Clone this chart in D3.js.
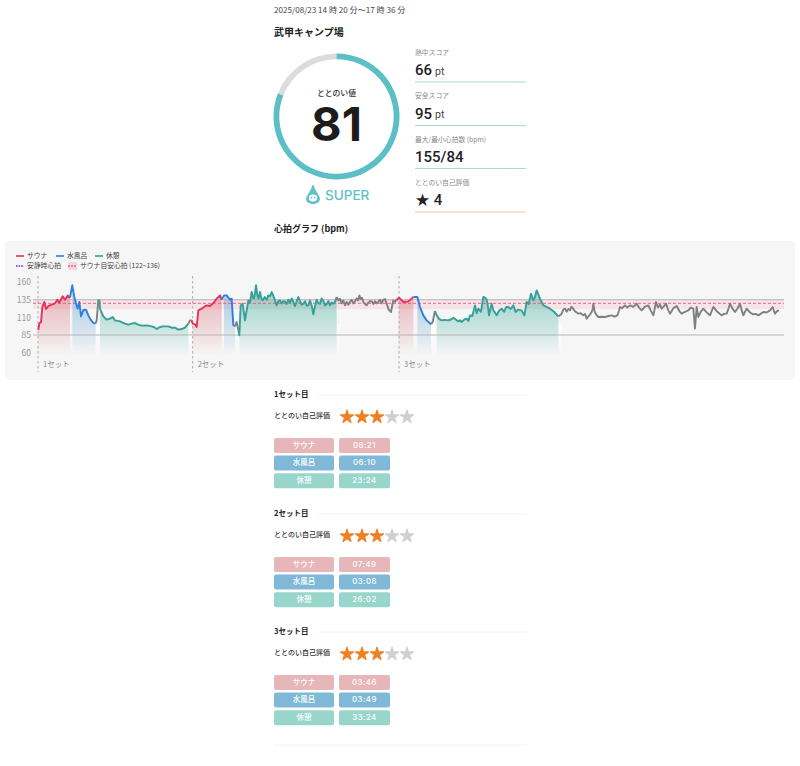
<!DOCTYPE html>
<html lang="ja"><head><meta charset="utf-8">
<script src="https://cdn.jsdelivr.net/npm/d3@7/dist/d3.min.js"></script>
<style>html,body{margin:0;padding:0;background:#fff}svg{display:block}
text{font-family:"Noto Sans CJK JP","Noto Sans",sans-serif;}
.num{font-family:Inter,sans-serif}.rb{font-family:Roboto,sans-serif}</style></head><body>
<div id="c"></div>
<script>
const dateText="2025/08/23 14 時 20 分〜17 時 36 分";
const placeName="武甲キャンプ場";
const score=81, scoreMax=100, scoreLabel="ととのい値", rankLabel="SUPER";
const statLabels=["熱中スコア","安全スコア","最大/最小心拍数 (bpm)","ととのい自己評価"];
const statValues=["66","95","155/84","★ 4"];
const statUnits=["pt","pt","",""];
const chartTitle="心拍グラフ (bpm)";
const yTicks=[60,85,110,135,160];
const restingHr=85, gridTop=135, targetLow=122, targetHigh=136, targetMid=130;
const setStarts=[0,464,1083];
const setLabels=["1セット","2セット","3セット"];
const totalTicks=2226; // 1 tick ≈ 5.3 s, 14:20 → 17:36
const sauna1=[[1,92],[4,102],[9,103],[13,125],[19,132],[24,122],[31,126],[41,128],[51,130],[58,135],[64,131],[74,140],[81,135],[89,141],[96,138]];
const water1=[[103,155.6],[108,141.3],[114,129.5],[119,122.4],[124,131.9],[129,111.5],[136,120.5],[144,121],[151,112.9],[158,106.8],[166,102],[173,101.5]];
const gapA=[[176,105.8],[181,134.2],[184,135.2]];
const rest1=[[186,122.4],[196,111.5],[206,106.8],[216,108.2],[224,110.6],[231,105.8],[246,104.4],[254,102.5],[261,101.1],[271,99.7],[281,101.1],[291,102],[301,99.7],[311,98.3],[326,98.7],[341,97.3],[349,96],[356,93.5],[366,96.4],[376,97.3],[391,97.3],[401,95.4],[411,95.4],[421,92.6],[431,93.5],[441,95.4],[451,101.1]];
const gapB=[[456,105.8],[461,105.8]];
const sauna2=[[464,101.1],[471,100.2],[476,96.4],[481,120],[491,122.4],[498,124.8],[506,127.1],[516,126.2],[526,130.5],[536,136.6],[546,141.3],[551,135.2]];
const water2=[[558,141.3],[566,141.3],[576,135.2],[581,136.6],[586,99],[591,97.3]];
const gapC=[[596,103.5],[601,91.6]];
const rest2=[[604,84.5],[608,127.1],[614,129.5],[621,105.8],[631,134.2],[636,131],[641,146],[645,138],[648,136.6],[651,144],[654,155.6],[658,142],[661,136.6],[664,141],[666,146],[670,137],[674,134.2],[680,139],[686,135],[691,141.3],[696,140],[701,146],[706,141],[711,134.2],[716,127.1],[721,133],[726,134.2],[731,130],[736,133],[741,132.8],[746,129],[751,135.2],[756,131],[761,137],[766,131.9],[771,126],[776,133],[781,139],[786,133],[791,128],[796,129.5],[801,133],[806,127],[811,127.1],[816,134],[821,127],[826,114.4],[831,126],[836,135.2],[841,130],[846,129.5],[851,137],[856,133.3],[861,127],[866,128.6],[871,133],[876,127.1],[881,131],[886,129.5],[891,132],[896,139]];
const gapD=[[901,134],[906,136.6],[911,130],[916,134],[921,127.1],[926,132],[931,128],[936,131.9],[941,135],[946,130],[951,132.8],[956,137],[960,134],[964,141.3],[968,136],[972,138],[976,131.9],[981,129],[986,127.1],[991,131],[996,133],[1001,132.8],[1006,129],[1011,133],[1016,130],[1021,131.9],[1026,135],[1031,130],[1036,135.2],[1041,136],[1046,129.5],[1052,121],[1059,117.7],[1063,128],[1066,134.2],[1071,132],[1076,135.2]];
const sauna3=[[1083,138],[1096,131.9],[1111,132.8],[1126,139]];
const water3=[[1138,139],[1146,124.8],[1156,112.9],[1166,105.8],[1179,100.2]];
const gapE=[[1184,103.5],[1191,119.1]];
const rest3=[[1196,112.9],[1203,108],[1211,105.8],[1221,106.5],[1231,105.8],[1239,107],[1246,109.6],[1253,107],[1261,104.4],[1266,106],[1271,103.5],[1279,107],[1286,108.2],[1291,104.8],[1296,112.9],[1303,112],[1311,127.1],[1316,116],[1321,122.4],[1329,118],[1336,139],[1341,138],[1346,135.2],[1350,125],[1353,112.9],[1357,121],[1361,129.5],[1366,120],[1371,117],[1376,112.9],[1382,119],[1391,122.4],[1398,118],[1405,125],[1411,124.8],[1418,122],[1426,127.1],[1433,117.7],[1440,121],[1451,120],[1459,112.9],[1466,131.9],[1472,129],[1479,143.7],[1486,134.2],[1491,139],[1496,148.4],[1506,136.6],[1516,127.1],[1526,125],[1536,122.4],[1548,118],[1561,111.5]];
const gapF=[[1566,113],[1571,115.3],[1576,121],[1581,122.4],[1586,118],[1591,122],[1596,120],[1600,125],[1604,123.8],[1610,119],[1616,117],[1621,115.3],[1628,116],[1636,112.9],[1641,115],[1646,108.2],[1652,112],[1656,114],[1661,117.7],[1664,122],[1666,129.5],[1670,118],[1676,113],[1681,110.6],[1691,111],[1701,110.6],[1711,112],[1721,112.9],[1730,111],[1738,112.9],[1742,118],[1746,124.8],[1752,123],[1761,127.1],[1768,124],[1776,127.1],[1786,125],[1796,129.5],[1803,124],[1811,120],[1820,125],[1831,127.1],[1838,120],[1846,112.9],[1850,122],[1854,131.9],[1860,124],[1866,128],[1871,122.4],[1878,126],[1884,129.5],[1890,121],[1896,115.3],[1906,123],[1916,126.2],[1924,119],[1931,115.3],[1941,118],[1951,120],[1958,124],[1966,122.4],[1971,94],[1976,124.8],[1981,110.6],[1988,118],[1996,122.4],[2006,117],[2016,112.9],[2021,119],[2026,124.8],[2038,118],[2051,112.9],[2058,115],[2066,115.3],[2071,122],[2076,129.5],[2084,122],[2091,117.7],[2099,123],[2106,129.5],[2111,120],[2116,112.9],[2121,118],[2126,122.4],[2136,117],[2146,114.4],[2153,115],[2161,112.9],[2168,115],[2176,117.7],[2186,117],[2196,120],[2204,124.8],[2208,119],[2211,115.3],[2217,119],[2223,120]];
const segKinds=["sauna","water","none","rest","none","sauna","water","none","rest","none","sauna","water","none","rest","none"];
const segData=[sauna1,water1,gapA,rest1,gapB,sauna2,water2,gapC,rest2,gapD,sauna3,water3,gapE,rest3,gapF];
const gapSpans=[[173,186],[451,464],[596,604],[896,906],[1179,1196],[1561,1571]];
const legendRow1=["サウナ","水風呂","休憩"];
const legendRow2=["安静時心拍","サウナ目安心拍 (122~136)"];
const setTitles=["1セット目","2セット目","3セット目"];
const selfLabel="ととのい自己評価";
const setStars=[3,3,3];
const rowLabels=["サウナ","水風呂","休憩"];
const setTimes=[["08:21","06:10","23:24"],["07:49","03:08","26:02"],["03:46","03:49","33:24"]];

const W=800,H=766;
const svg=d3.select("#c").append("svg").attr("width",W).attr("height",H).attr("viewBox",`0 0 ${W} ${H}`);
const defs=svg.append("defs");
const ink="#222";
function txt(x,y,s,size,fill,weight,anchor,cls){
  const t=svg.append("text").attr("x",x).attr("y",y).attr("font-size",size).attr("fill",fill||ink).attr("dominant-baseline","middle").text(s);
  if(weight)t.attr("font-weight",weight); if(anchor)t.attr("text-anchor",anchor); if(cls)t.attr("class",cls);
  return t;
}
txt(274,11,dateText,8.1,"#444");
txt(274,33,placeName,10,"#222",700);

// ring
const ringC=[336.5,116.5], ringR=63, ringW=5.8;
const arc=d3.arc().innerRadius(ringR-ringW).outerRadius(ringR);
const angle=d3.scaleLinear().domain([0,scoreMax]).range([0,2*Math.PI]);
const ring=svg.append("g").attr("transform",`translate(${ringC})`);
ring.append("path").attr("d",arc({startAngle:angle(score),endAngle:angle(scoreMax)})).attr("fill","#dcdcdc");
ring.append("path").attr("d",arc({startAngle:angle(0),endAngle:angle(score)})).attr("fill","#5cbfc6");
txt(336.5,93.5,scoreLabel,7.8,"#333",500,"middle");
txt(336.5,128,score,47,"#1c1c1c",700,"middle","num");
// rank badge
const badge=svg.append("g").attr("transform","translate(313,196)");
badge.append("path").attr("fill","#62c1c8").attr("d","M-1.2,-8.6 a1.4,1.4 0 1 1 2.4,0 L6.6,1 C8,6 4,8 0,8 C-4,8 -8,6 -6.6,1 Z");
badge.append("ellipse").attr("cy",2).attr("rx",4.2).attr("ry",3.4).attr("fill","#fff");
badge.append("circle").attr("cx",-1.6).attr("cy",1.6).attr("r",.8).attr("fill","#62c1c8");
badge.append("circle").attr("cx",1.6).attr("cy",1.6).attr("r",.8).attr("fill","#62c1c8");
txt(325,196,rankLabel,13.5,"#62c1c8",500,null,"num");

// stats
const statY=[[53,71.5,82],[96,115,125.5],[140,158,168.5],[183,201,212]];
const statLine=["#a8d8d5","#a8d8d5","#a8d8d5","#f0c4aa"];
statLabels.forEach((l,i)=>{
  txt(415,statY[i][0],l,6.8,"#888");
  const t=txt(415,statY[i][1],statValues[i],15,"#222",500,null,"rb");
  if(statUnits[i]) t.append("tspan").attr("dx",3).attr("font-size",10.5).attr("fill","#444").attr("font-weight",400).text(statUnits[i]);
  svg.append("line").attr("x1",415).attr("x2",526).attr("y1",statY[i][2]).attr("y2",statY[i][2]).attr("stroke",statLine[i]).attr("stroke-width",1);
});
txt(274,229.5,chartTitle,9,"#222",700);

// chart panel
svg.append("rect").attr("x",5).attr("y",241).attr("width",790).attr("height",139).attr("rx",4).attr("fill","#f6f6f6");
const colors={sauna:"#e8315c",water:"#2f7fe3",rest:"#34a098",none:"#808080"};
const fills={sauna:"#d9727c",water:"#5f9fce",rest:"#3fae9e"};
const x=d3.scaleLinear().domain([0,totalTicks]).range([38,780]);
const y=d3.scaleLinear().domain([60,160]).range([352.6,282.2]);
const plotL=33,plotR=784;
const baseVal=56;
Object.keys(fills).forEach(k=>{
  const g=defs.append("linearGradient").attr("id","g-"+k).attr("gradientUnits","userSpaceOnUse").attr("x1",0).attr("x2",0).attr("y1",y(136)).attr("y2",y(baseVal));
  g.append("stop").attr("offset",0).attr("stop-color",fills[k]).attr("stop-opacity",.44);
  g.append("stop").attr("offset",.55).attr("stop-color",fills[k]).attr("stop-opacity",.22);
  g.append("stop").attr("offset",1).attr("stop-color",fills[k]).attr("stop-opacity",0);
});
const gw=defs.append("linearGradient").attr("id","g-white").attr("gradientUnits","userSpaceOnUse").attr("x1",0).attr("x2",0).attr("y1",y(100)).attr("y2",y(baseVal));
gw.append("stop").attr("offset",0).attr("stop-color","#fff").attr("stop-opacity",.9);
gw.append("stop").attr("offset",1).attr("stop-color","#fff").attr("stop-opacity",0);
const plot=svg.append("g");
plot.append("rect").attr("x",plotL).attr("width",plotR-plotL).attr("y",y(targetHigh)).attr("height",y(targetLow)-y(targetHigh)).attr("fill","#f4b8c4").attr("opacity",.3);
// axis
const axis=d3.axisLeft(y).tickValues(yTicks).tickSize(0).tickPadding(0);
const ax=svg.append("g").attr("transform","translate(31,0)").call(axis);
ax.select(".domain").remove();
ax.selectAll("text").attr("font-size",8.5).attr("fill","#999").attr("font-family","Inter,sans-serif");
// areas
const area=d3.area().x(d=>x(d[0])).y0(y(baseVal)).y1(d=>y(d[1]));
const line=d3.line().x(d=>x(d[0])).y(d=>y(d[1]));
const segs=segKinds.map((k,i)=>{
  const pts=segData[i];
  return {k,pts,full:i>0?[segData[i-1][segData[i-1].length-1],...pts]:pts};
});
plot.selectAll("rect.w").data(gapSpans).join("rect").attr("class","w")
  .attr("x",d=>x(d[0])).attr("width",d=>x(d[1])-x(d[0])).attr("y",y(100)).attr("height",y(baseVal)-y(100)).attr("fill","url(#g-white)");
plot.selectAll("path.a").data(segs.filter(s=>s.k!=="none")).join("path").attr("class","a")
  .attr("d",s=>area(s.pts)).attr("fill",s=>`url(#g-${s.k})`);
// set markers
plot.selectAll("line.s").data(setStarts).join("line").attr("class","s").attr("x1",d=>x(d)).attr("x2",d=>x(d)).attr("y1",276).attr("y2",372)
  .attr("stroke","#aaa").attr("stroke-dasharray","2.5 2.5").attr("stroke-width",1);
plot.selectAll("text.s").data(setLabels).join("text").attr("class","s").attr("x",(d,i)=>x(setStarts[i])+5).attr("y",365).attr("dominant-baseline","middle")
  .attr("font-size",7.5).attr("fill","#888").text(d=>d);
// refs
[[gridTop,"#b4b4b4"],[restingHr,"#b4b4b4"]].forEach(([v,c])=>plot.append("line").attr("x1",plotL).attr("x2",plotR).attr("y1",y(v)).attr("y2",y(v)).attr("stroke",c).attr("stroke-width",1));
plot.append("line").attr("x1",plotL).attr("x2",plotR).attr("y1",y(targetMid)).attr("y2",y(targetMid)).attr("stroke","#e8557a").attr("stroke-width",.9).attr("stroke-dasharray","3 2");
// lines
plot.selectAll("path.l").data(segs).join("path").attr("class","l").attr("d",s=>line(s.full)).attr("fill","none")
  .attr("stroke",s=>colors[s.k]).attr("stroke-width",1.9).attr("stroke-linejoin","round");
// legend
const leg1X=[16,56,95];
legendRow1.forEach((l,i)=>{
  svg.append("line").attr("x1",leg1X[i]).attr("x2",leg1X[i]+8).attr("y1",256).attr("y2",256).attr("stroke",[colors.sauna,colors.water,colors.rest][i]).attr("stroke-width",1.6);
  txt(leg1X[i]+11,256,l,6.8,"#444");
});
svg.append("line").attr("x1",16).attr("x2",24).attr("y1",266).attr("y2",266).attr("stroke","#6a3be0").attr("stroke-width",1.6).attr("stroke-dasharray","1.6 1");
txt(27,266,legendRow2[0],6.8,"#444");
svg.append("rect").attr("x",68).attr("y",262).attr("width",9).attr("height",8).attr("fill","#f4b8c4").attr("opacity",.55);
svg.append("line").attr("x1",68).attr("x2",77).attr("y1",266).attr("y2",266).attr("stroke","#e8315c").attr("stroke-width",1.2).attr("stroke-dasharray","2 1");
txt(80,266,legendRow2[1],6.8,"#444");

// sets
const setY=[395,514,632];
const pillFill=["#e7b6b9","#7fb9d7","#98d6cc"];
const starX=d3.scalePoint().domain(d3.range(5)).range([347,407]);
const starPath=d3.symbol().type(d3.symbolStar).size(52);
setTitles.forEach((t,i)=>{
  const y0=setY[i];
  txt(274,y0,t,7.5,"#222",700);
  svg.append("line").attr("x1",318).attr("x2",527).attr("y1",y0).attr("y2",y0).attr("stroke","#f2f2f2").attr("stroke-width",1);
  txt(274,y0+21.5,selfLabel,7,"#333",500);
  svg.selectAll(null).data(d3.range(5)).join("path").attr("d",starPath)
    .attr("transform",d=>`translate(${starX(d)},${y0+22})`).attr("fill",d=>d<setStars[i]?"#ee8125":"#d0d0d0")
    .attr("stroke",d=>d<setStars[i]?"#ee8125":"#d0d0d0").attr("stroke-width",1.2).attr("stroke-linejoin","round");
  rowLabels.forEach((r,j)=>{
    const ry=y0+43+j*17.6;
    svg.append("rect").attr("x",274).attr("y",ry).attr("width",60).attr("height",15).attr("rx",2).attr("fill",pillFill[j]);
    svg.append("rect").attr("x",339).attr("y",ry).attr("width",51).attr("height",15).attr("rx",2).attr("fill",pillFill[j]);
    txt(304,ry+7.7,r,7.5,"#fff",500,"middle");
    txt(364.5,ry+7.7,setTimes[i][j],7.8,"#fff",500,"middle","num").attr("letter-spacing",.5);
  });
});
svg.append("line").attr("x1",274).attr("x2",527).attr("y1",745).attr("y2",745).attr("stroke","#f2f2f2");
</script></body></html>
